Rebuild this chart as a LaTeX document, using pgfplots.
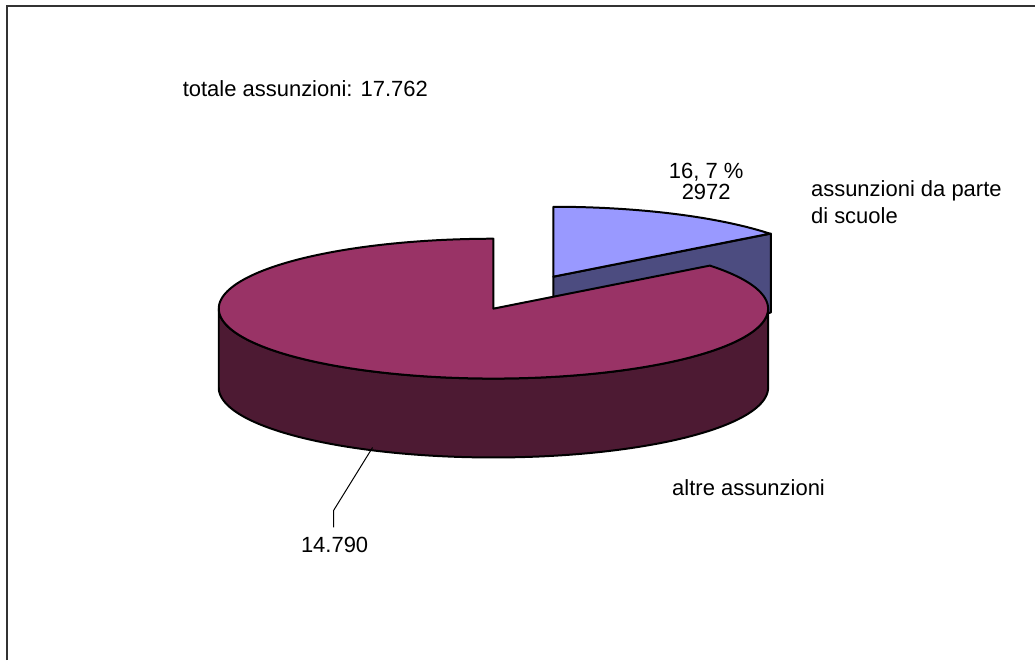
\documentclass[border=0pt]{standalone}
\usepackage{pgfplots}
\pgfplotsset{compat=1.18}
\usepackage{pgfplotstable}
\usepackage{fontspec}
\setmainfont{Liberation Sans}
\definecolor{bigtop}{HTML}{993366}
\definecolor{bigside}{HTML}{4D1A33}
\definecolor{smalltop}{HTML}{9999FF}
\definecolor{smallside}{HTML}{4C4C80}
\definecolor{frame}{HTML}{333333}
% data
\pgfplotstableread{
cat value
scuole 2972
altre 14790
}\piedata
\tikzset{lbl/.style={inner sep=0pt, outer sep=0pt, font=\fontsize{11}{13}\selectfont}}
\begin{document}
\begin{tikzpicture}
\begin{axis}[
  width=518pt, height=330.5pt, scale only axis,
  xmin=0, xmax=1036, ymin=0, ymax=661, y dir=reverse,
  hide axis, clip=false,
]
% bounding area
\path (axis cs:0,0) rectangle (axis cs:1036,661);
% frame (left and top edges)
\addplot[draw=frame, line width=1.2pt] coordinates {(7,661) (7,6) (1036,6)};
% small slice: cut face
\addplot[fill=smallside, draw=black, line width=1pt, line join=round]
  coordinates {(554,277) (771.7,233.9) (771.7,312.9) (554,356)} -- cycle;
% small slice: top face
\addplot[fill=smalltop, draw=black, line width=1pt, line join=round, domain=38:90, samples=60]
  ({554+275*cos(x)},{277-70*sin(x)}) -- (axis cs:554,277) -- cycle;
% big slice: outer side
\addplot[fill=bigside, draw=black, line width=1pt, line join=round, domain=180:540, samples=361]
  ({494+275*cos(x<=360 ? x : 720-x)},{309-70*sin(x<=360 ? x : 720-x)+(x>360 ? 79 : 0)}) -- cycle;
% big slice: top face
\addplot[fill=bigtop, draw=black, line width=1pt, line join=round, domain=-270:38, samples=200]
  ({494+275*cos(x)},{309-70*sin(x)}) -- (axis cs:494,309) -- cycle;
% leader line
\addplot[black, line width=0.5pt] coordinates {(373,448) (334,511) (334,528)};
% labels
\node[lbl, anchor=base west] at (axis cs:183,97) {totale assunzioni: 17.762};
\node[lbl, anchor=base] at (axis cs:707,179) {16, 7 \%};
\node[lbl, anchor=base] at (axis cs:707,200) {2972};
\node[lbl, anchor=base west] at (axis cs:812,197) {assunzioni da parte};
\node[lbl, anchor=base west] at (axis cs:812,224) {di scuole};
\node[lbl, anchor=base west] at (axis cs:673,496) {altre assunzioni};
\node[lbl, anchor=base] at (axis cs:335,553) {14.790};
\end{axis}
\end{tikzpicture}
\end{document}
